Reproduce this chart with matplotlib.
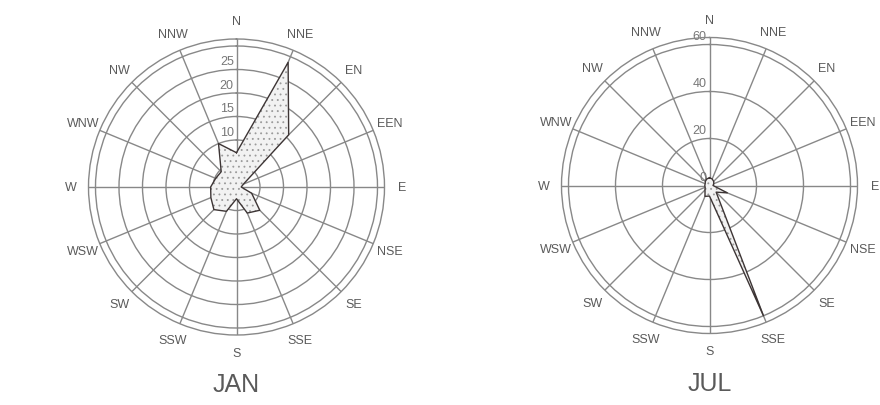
import numpy as np
import matplotlib
matplotlib.use("Agg")
import matplotlib.pyplot as plt

plt.rcParams['font.family'] = ['Liberation Sans', 'DejaVu Sans']
plt.rcParams['hatch.linewidth'] = 0.6

# wind directions, clockwise from north
directions = ["N", "NNE", "EN", "EEN", "E", "NSE", "SE", "SSE",
              "S", "SSW", "SW", "WSW", "W", "WNW", "NW", "NNW"]

jan_values = [7.3, 28.7, 15.7, 1.6, 1.0, 3.5, 7.0, 6.0,
              2.5, 5.6, 6.8, 5.9, 5.5, 4.8, 4.6, 10.0]
jan_rings = [5, 10, 15, 20, 25, 30]
jan_labels = [0, 5, 10, 15, 20, 25]

jul_values = [3.3, 3.0, 2.5, 2.0, 1.5, 8.2, 4.0, 60.0,
              4.5, 5.0, 2.7, 2.0, 2.0, 2.0, 2.5, 3.0]
jul_rings = [20, 40, 60]
jul_labels = [0, 20, 40, 60]

grid_c = "#888888"
text_c = "#5a5a5a"
edge_c = "#3d3535"

fig = plt.figure(figsize=(8.8, 4.06), dpi=100)


def rose(rect, values, rings, labels, title):
    ax = fig.add_axes(rect, projection="polar")
    ax.set_theta_zero_location("N")
    ax.set_theta_direction(-1)
    top = rings[-1]
    rmax = top * 148 / 141
    ax.set_ylim(0, rmax)

    theta = np.arange(len(directions)) * 2 * np.pi / len(directions)
    th = np.append(theta, theta[0])
    r = np.append(values, values[0])

    # dotted fill, then the outline on top
    ax.fill(th, r, facecolor="#f2f2f2", edgecolor="#9a9a9a", hatch="...",
            linewidth=0, zorder=3)
    ax.plot(th, r, color=edge_c, lw=1.0, zorder=4)

    ax.set_thetagrids(np.degrees(theta), [""] * len(theta))
    ax.set_rgrids(rings, [""] * len(rings))
    ax.grid(color=grid_c, lw=1.0)
    ax.spines["polar"].set_color(grid_c)
    ax.spines["polar"].set_linewidth(1.0)

    # direction names on a circle just outside the rim
    for t, name in zip(theta, directions):
        ax.text(t, rmax * 166 / 148, name, ha="center", va="center",
                fontsize=9, color=text_c, clip_on=False)

    for v in labels:
        ax.annotate(str(v), (0, v), xytext=(-2, 1.5), textcoords="offset points",
                    ha="right", va="bottom", fontsize=9, color="#777777",
                    zorder=2)

    ax.set_title(title, y=-0.218, fontsize=18, color=text_c)
    return ax


rose([(236.5 - 148) / 880, (406 - 188 - 148) / 406, 296 / 880, 296 / 406],
     jan_values, jan_rings, jan_labels, "JAN")
rose([(709.5 - 148) / 880, (406 - 186.5 - 148) / 406, 296 / 880, 296 / 406],
     jul_values, jul_rings, jul_labels, "JUL")

fig.savefig("out.png", dpi=100)
